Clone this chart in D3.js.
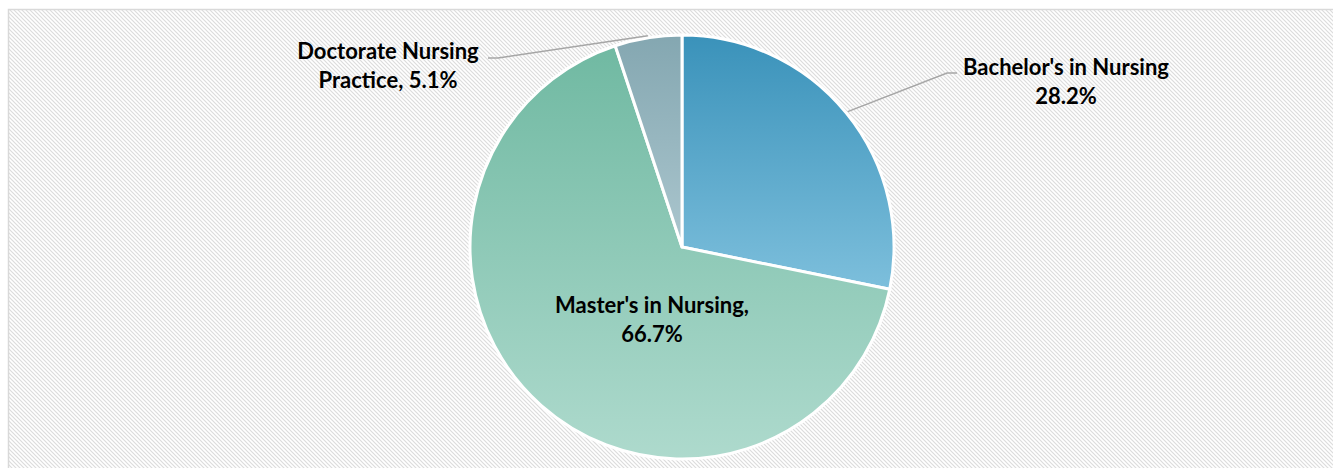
<!DOCTYPE html>
<html>
<head>
<meta charset="utf-8">
<script src="https://cdn.jsdelivr.net/npm/d3@7"></script>
<style>
  body { margin: 0; background: #fff; }
  text { font-family: Lato, "Open Sans", sans-serif; font-weight: bold; }
</style>
</head>
<body>
<div id="chart"></div>
<script>
const categories = ["Bachelor's in Nursing", "Master's in Nursing", "Doctorate Nursing Practice"];
const values = [28.2, 66.7, 5.1];
const labelLines = [["Bachelor's in Nursing", "28.2%"], ["Master's in Nursing,", "66.7%"], ["Doctorate Nursing", "Practice, 5.1%"]];
const colorsTop = ["#3a92ba", "#70b9a2", "#84a7b1"];
const colorsBottom = ["#7dbfdc", "#aedacd", "#abc6ce"];

const width = 1333;
const height = 468;
const cx = 682, cy = 247, radius = 212;

const svg = d3.select("#chart")
  .append("svg").attr("width", width).attr("height", height);

const defs = svg.append("defs");

// hatch background
const pat = defs.append("pattern")
  .attr("id", "hatch").attr("patternUnits", "userSpaceOnUse")
  .attr("width", 4).attr("height", 4);
pat.append("rect").attr("width", 4).attr("height", 4).attr("fill", "#fff");
pat.append("path").attr("d", "M-1,-1 L5,5 M-1,3 L1,5 M3,-1 L5,1")
  .attr("stroke", "#dcdcdc").attr("stroke-width", 1.2);

// gradients for slices
categories.forEach((c, i) => {
  const g = defs.append("linearGradient").attr("id", "grad" + i)
    .attr("x1", 0).attr("y1", 0).attr("x2", 0).attr("y2", 1);
  g.append("stop").attr("offset", "0%").attr("stop-color", colorsTop[i]);
  g.append("stop").attr("offset", "100%").attr("stop-color", colorsBottom[i]);
});

svg.append("rect")
  .attr("x", 8.5).attr("y", 9.5)
  .attr("width", width).attr("height", height)
  .attr("fill", "url(#hatch)")
  .attr("stroke", "#d9d9d9").attr("stroke-width", 1.5);

const pie = d3.pie().sort(null).value(d => d);
const arcs = pie(values);
const arc = d3.arc().innerRadius(0).outerRadius(radius);
const outer = d3.arc().innerRadius(radius + 2).outerRadius(radius + 2);

const g = svg.append("g").attr("transform", `translate(${cx},${cy})`);

g.selectAll("path.slice")
  .data(arcs)
  .join("path")
  .attr("class", "slice")
  .attr("d", arc)
  .attr("fill", (d, i) => `url(#grad${i})`)
  .attr("stroke", "#fff")
  .attr("stroke-width", 3)
  .attr("stroke-linejoin", "round");

// label placement (relative to pie centre)
const labelPos = [[384, -172], [-30, 66], [-294, -188]];
const elbow = [[265, -174], null, [-184, -189]];

arcs.forEach((d, i) => {
  const p = outer.centroid(d);
  if (elbow[i]) {
    const e = elbow[i];
    const start = i === 0 ? [e[0] + 10, e[1]] : [e[0] - 10, e[1]];
    g.append("polyline")
      .attr("points", [start, e, p].map(q => q.join(",")).join(" "))
      .attr("fill", "none")
      .attr("stroke", "#a6a6a6")
      .attr("stroke-width", 1.5);
  }
  const t = g.append("text")
    .attr("x", labelPos[i][0]).attr("y", labelPos[i][1])
    .attr("text-anchor", "middle")
    .style("font-size", "22px")
    .attr("fill", "#000");
  labelLines[i].forEach((s, k) => {
    t.append("tspan").attr("x", labelPos[i][0]).attr("dy", k === 0 ? 0 : 29).text(s);
  });
});
</script>
</body>
</html>
